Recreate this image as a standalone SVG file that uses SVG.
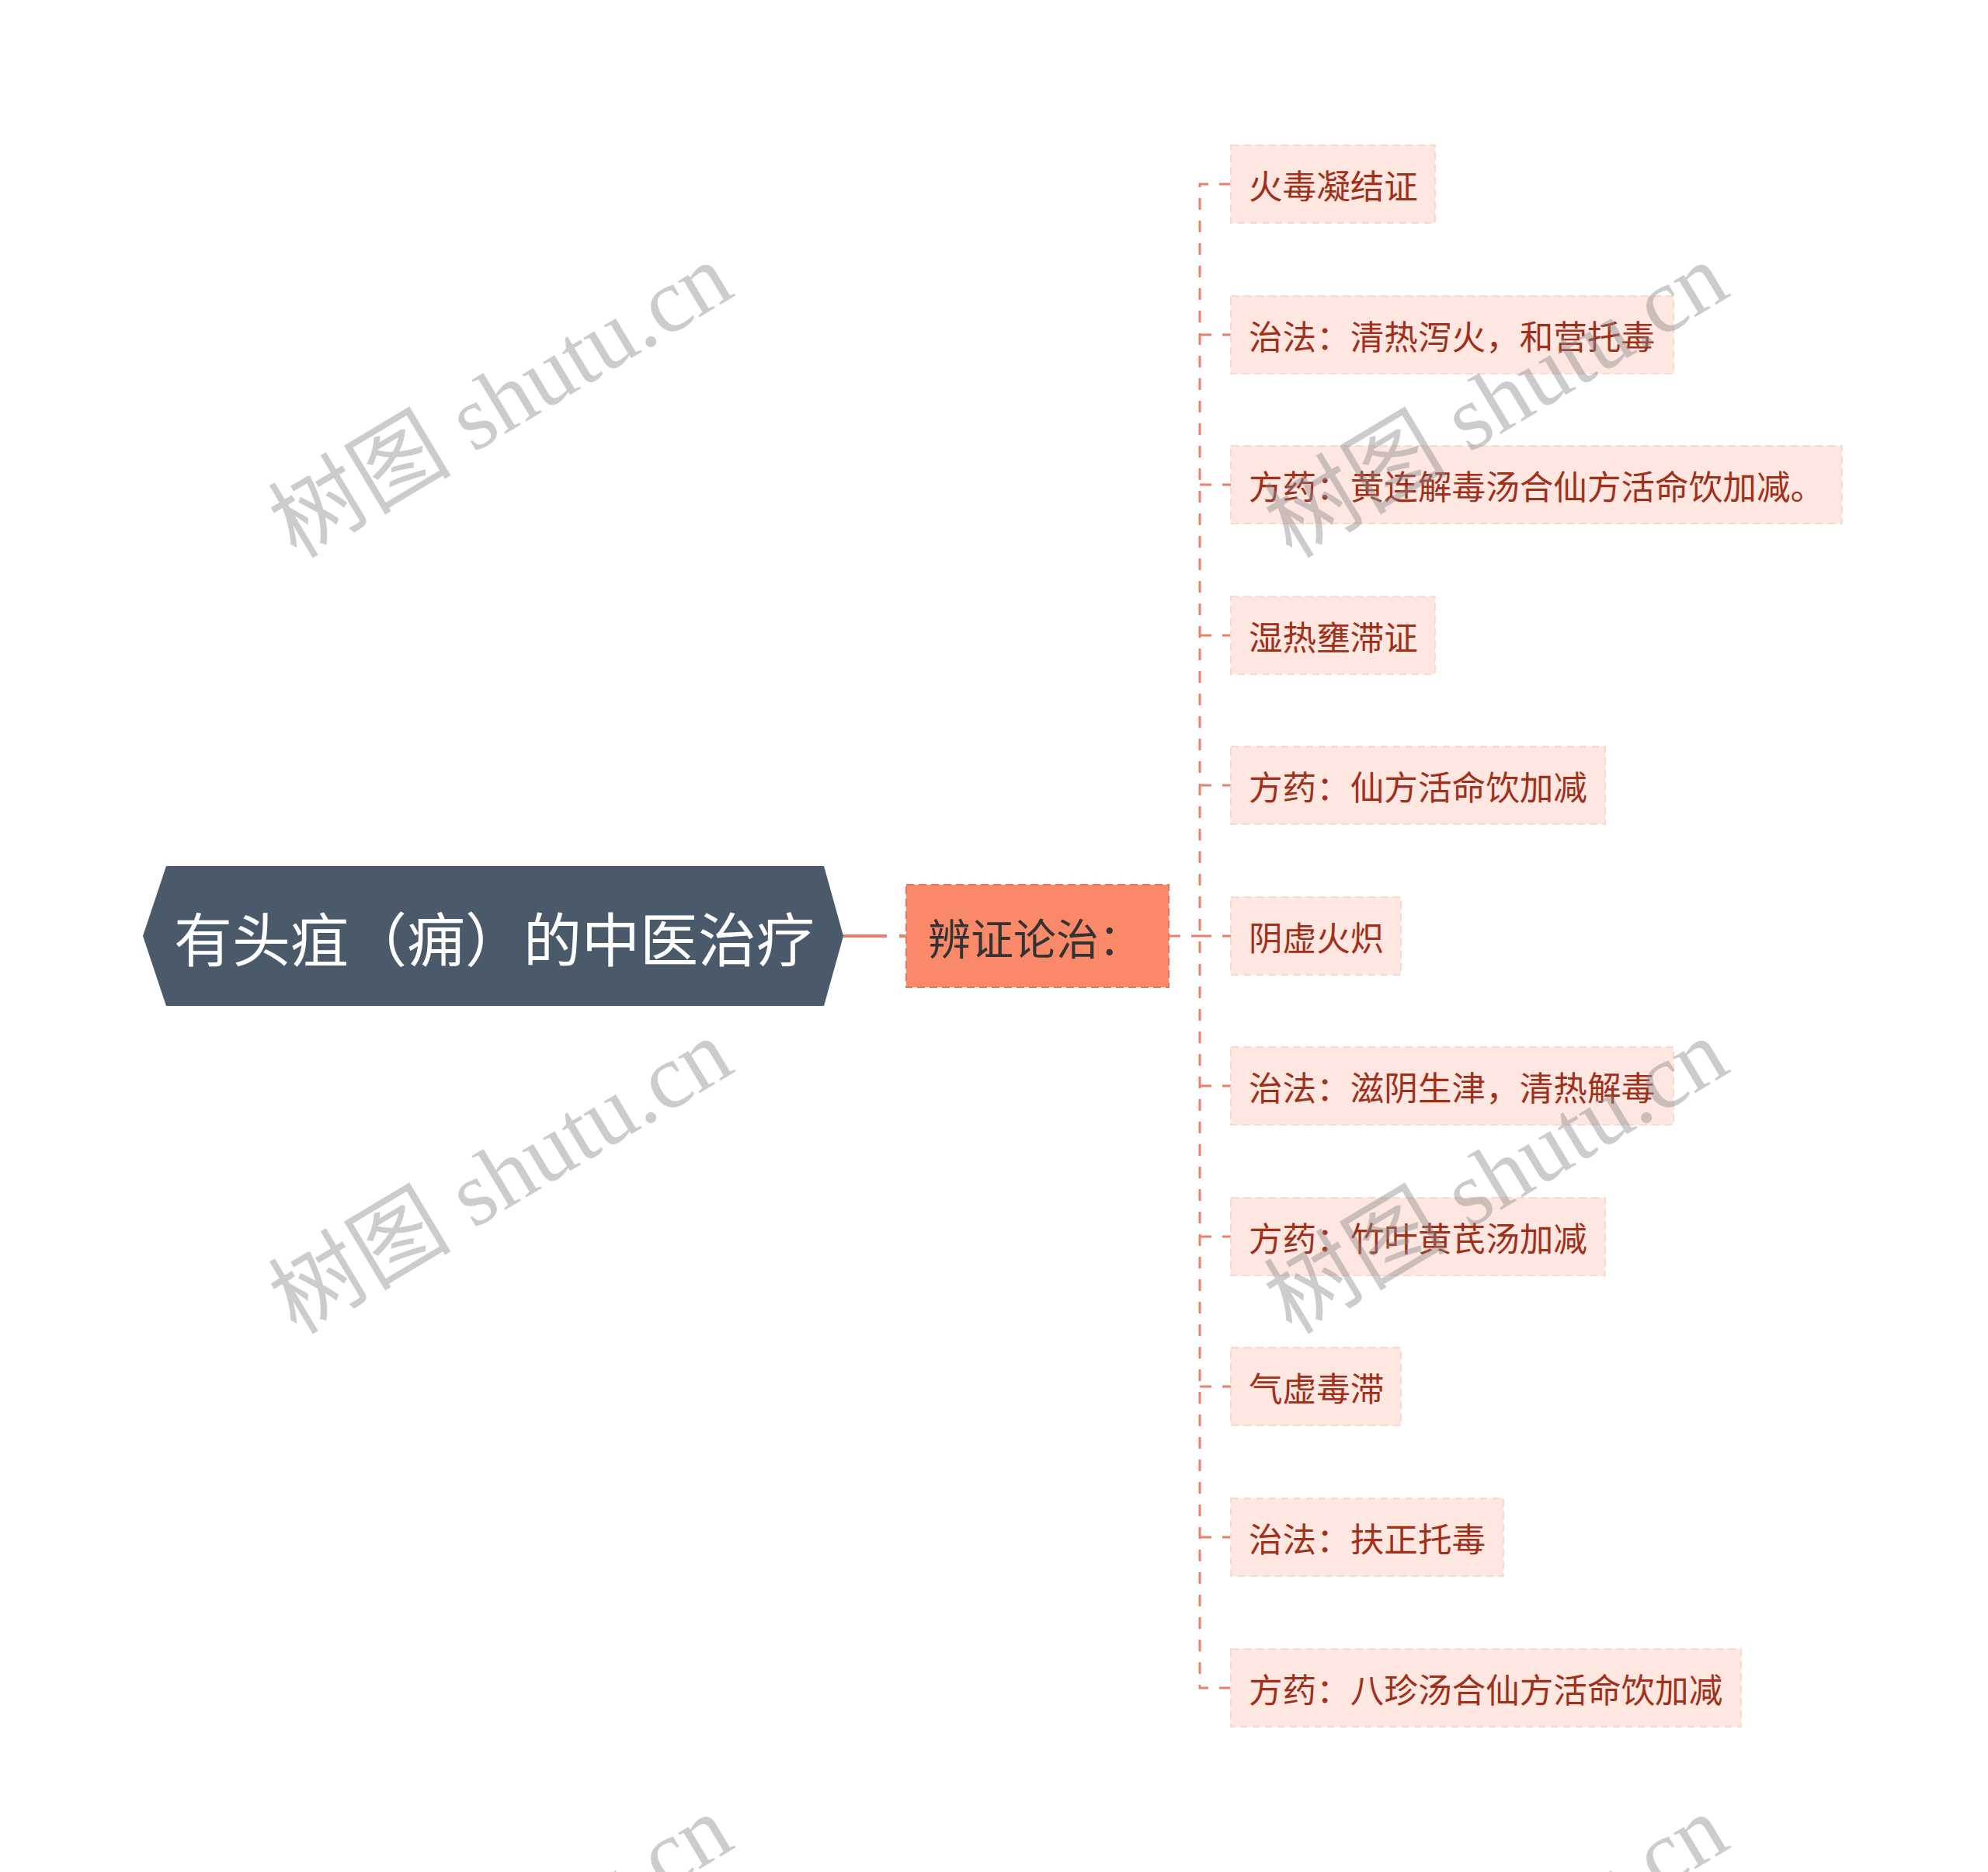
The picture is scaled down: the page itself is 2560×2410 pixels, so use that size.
<svg xmlns="http://www.w3.org/2000/svg" width="2560" height="2410" viewBox="0 0 2560 2410">
<style>
.root-shape{fill:#4a5a6a;}
.root-text{fill:#ffffff;font-family:"Noto Sans CJK SC","Noto Sans",sans-serif;font-size:75px;}
.mid-box{fill:#fa896a;stroke:#e9765a;stroke-width:2;stroke-dasharray:10 6;}
.mid-text{fill:#333333;font-family:"Noto Sans CJK SC","Noto Sans",sans-serif;font-size:55px;}
.leaf-box{fill:#fde7e0;stroke:#f8d9ce;stroke-width:2;stroke-dasharray:10 6;}
.leaf-text{fill:#a1301b;font-family:"Noto Sans CJK SC","Noto Sans",sans-serif;font-size:43.6px;}
.conn{fill:none;stroke:#ec8068;stroke-width:3;stroke-dasharray:15 14;}
.wm{fill:#888888;opacity:0.42;font-family:"Liberation Serif","Noto Sans CJK SC",serif;font-size:118px;}
</style>
<rect width="2560" height="2410" fill="#ffffff"/>
<g id="connectors">
<line x1="1086" y1="1205" x2="1167" y2="1205" stroke="#ec8068" stroke-width="4" stroke-dasharray="56 16"/>
<line class="conn" x1="1505" y1="1205" x2="1545" y2="1205"/>
<path class="conn" d="M1585,237 H1545 V2173 H1585"/>
<line class="conn" x1="1545" y1="431" x2="1585" y2="431"/>
<line class="conn" x1="1545" y1="624" x2="1585" y2="624"/>
<line class="conn" x1="1545" y1="818" x2="1585" y2="818"/>
<line class="conn" x1="1545" y1="1011" x2="1585" y2="1011"/>
<line class="conn" x1="1545" y1="1205" x2="1585" y2="1205"/>
<line class="conn" x1="1545" y1="1398" x2="1585" y2="1398"/>
<line class="conn" x1="1545" y1="1592" x2="1585" y2="1592"/>
<line class="conn" x1="1545" y1="1785" x2="1585" y2="1785"/>
<line class="conn" x1="1545" y1="1979" x2="1585" y2="1979"/>
</g>
<g id="root">
<polygon class="root-shape" points="184,1205 214,1115 1061,1115 1086,1205 1061,1295 214,1295"/>
<text class="root-text" x="224" y="1205" dominant-baseline="central">有头疽（痈）的中医治疗</text>
</g>
<g id="mid">
<rect class="mid-box" x="1167" y="1139" width="338" height="132"/>
<text class="mid-text" x="1195" y="1205" dominant-baseline="central">辨证论治：</text>
</g>
<g id="n1"><rect class="leaf-box" x="1585" y="187" width="263" height="100"/><text class="leaf-text" x="1608" y="237" dominant-baseline="central">火毒凝结证</text></g>
<g id="n2"><rect class="leaf-box" x="1585" y="381" width="570" height="100"/><text class="leaf-text" x="1608" y="431" dominant-baseline="central">治法：清热泻火，和营托毒</text></g>
<g id="n3"><rect class="leaf-box" x="1585" y="574" width="787" height="100"/><text class="leaf-text" x="1608" y="624" dominant-baseline="central">方药：黄连解毒汤合仙方活命饮加减。</text></g>
<g id="n4"><rect class="leaf-box" x="1585" y="768" width="263" height="100"/><text class="leaf-text" x="1608" y="818" dominant-baseline="central">湿热壅滞证</text></g>
<g id="n5"><rect class="leaf-box" x="1585" y="961" width="482" height="100"/><text class="leaf-text" x="1608" y="1011" dominant-baseline="central">方药：仙方活命饮加减</text></g>
<g id="n6"><rect class="leaf-box" x="1585" y="1155" width="219" height="100"/><text class="leaf-text" x="1608" y="1205" dominant-baseline="central">阴虚火炽</text></g>
<g id="n7"><rect class="leaf-box" x="1585" y="1348" width="570" height="100"/><text class="leaf-text" x="1608" y="1398" dominant-baseline="central">治法：滋阴生津，清热解毒</text></g>
<g id="n8"><rect class="leaf-box" x="1585" y="1542" width="482" height="100"/><text class="leaf-text" x="1608" y="1592" dominant-baseline="central">方药：竹叶黄芪汤加减</text></g>
<g id="n9"><rect class="leaf-box" x="1585" y="1735" width="219" height="100"/><text class="leaf-text" x="1608" y="1785" dominant-baseline="central">气虚毒滞</text></g>
<g id="n10"><rect class="leaf-box" x="1585" y="1929" width="351" height="100"/><text class="leaf-text" x="1608" y="1979" dominant-baseline="central">治法：扶正托毒</text></g>
<g id="n11"><rect class="leaf-box" x="1585" y="2123" width="657" height="100"/><text class="leaf-text" x="1608" y="2173" dominant-baseline="central">方药：八珍汤合仙方活命饮加减</text></g>
<g id="watermarks">
<text class="wm" text-anchor="middle" dominant-baseline="central" transform="translate(645,516) rotate(-31)">树图 shutu.cn</text>
<text class="wm" text-anchor="middle" dominant-baseline="central" transform="translate(645,1515) rotate(-31)">树图 shutu.cn</text>
<text class="wm" text-anchor="middle" dominant-baseline="central" transform="translate(645,2514) rotate(-31)">树图 shutu.cn</text>
<text class="wm" text-anchor="middle" dominant-baseline="central" transform="translate(1927,516) rotate(-31)">树图 shutu.cn</text>
<text class="wm" text-anchor="middle" dominant-baseline="central" transform="translate(1927,1515) rotate(-31)">树图 shutu.cn</text>
<text class="wm" text-anchor="middle" dominant-baseline="central" transform="translate(1927,2514) rotate(-31)">树图 shutu.cn</text>
</g>
</svg>
